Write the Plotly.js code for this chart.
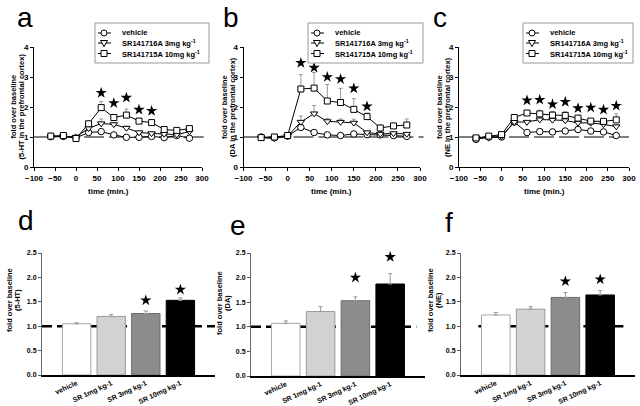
<!DOCTYPE html>
<html>
<head>
<meta charset="utf-8">
<script src="https://cdn.plot.ly/plotly-3.0.1.min.js"></script>
<style>html,body{margin:0;padding:0;background:#fff;}#chart{width:640px;height:406px;}</style>
</head>
<body>
<div id="chart"></div>
<script>
// ---------- data ----------
const times = [-60, -30, 0, 30, 60, 90, 120, 150, 180, 210, 240, 270];
const seriesNames = ['vehicle', 'SR141716A 3mg kg<sup>-1</sup>', 'SR141715A 10mg kg<sup>-1</sup>'];

// panel a : 5-HT
const ht_vehicle = [1.02, 1.02, 0.97, 1.15, 1.18, 1.07, 0.99, 0.99, 1.02, 0.98, 1.05, 0.96];
const ht_vehicle_err = [0.03, 0.02, 0.02, 0.04, 0.04, 0.03, 0.02, 0.02, 0.03, 0.02, 0.03, 0.02];
const ht_sr3 = [1.00, 1.02, 1.00, 1.29, 1.45, 1.42, 1.30, 1.15, 1.12, 1.10, 1.08, 1.18];
const ht_sr3_err = [0.02, 0.02, 0.02, 0.06, 0.15, 0.06, 0.06, 0.05, 0.04, 0.04, 0.03, 0.05];
const ht_sr10 = [1.03, 1.05, 0.95, 1.44, 1.98, 1.65, 1.73, 1.53, 1.48, 1.25, 1.22, 1.28];
const ht_sr10_err = [0.03, 0.03, 0.03, 0.06, 0.20, 0.08, 0.20, 0.08, 0.06, 0.05, 0.04, 0.05];
const ht_star_x = [60, 90, 120, 150, 180];
const ht_star_y = [2.47, 2.13, 2.31, 1.91, 1.87];

// panel b : DA
const da_vehicle = [1.00, 0.98, 1.03, 1.32, 1.15, 1.07, 1.05, 1.10, 1.08, 1.07, 1.05, 1.02];
const da_vehicle_err = [0.02, 0.02, 0.03, 0.10, 0.05, 0.04, 0.03, 0.05, 0.04, 0.03, 0.03, 0.03];
const da_sr3 = [0.98, 0.95, 1.03, 1.50, 1.78, 1.52, 1.50, 1.47, 1.15, 1.10, 1.12, 1.10];
const da_sr3_err = [0.02, 0.02, 0.03, 0.20, 0.27, 0.10, 0.10, 0.12, 0.05, 0.04, 0.05, 0.05];
const da_sr10 = [0.98, 1.00, 1.05, 2.60, 2.63, 2.20, 2.15, 1.92, 1.68, 1.30, 1.37, 1.40];
const da_sr10_err = [0.02, 0.02, 0.03, 0.48, 0.52, 0.55, 0.47, 0.36, 0.12, 0.10, 0.08, 0.20];
const da_star_x = [30, 60, 90, 120, 150, 180];
const da_star_y = [3.47, 3.31, 3.00, 2.93, 2.62, 2.02];

// panel c : NE
const ne_vehicle = [0.92, 1.00, 1.00, 1.50, 1.15, 1.18, 1.17, 1.20, 1.25, 1.20, 1.17, 1.05];
const ne_vehicle_err = [0.03, 0.03, 0.03, 0.05, 0.04, 0.04, 0.04, 0.04, 0.05, 0.04, 0.04, 0.04];
const ne_sr3 = [0.97, 0.97, 1.02, 1.50, 1.50, 1.58, 1.57, 1.55, 1.47, 1.47, 1.42, 1.35];
const ne_sr3_err = [0.03, 0.03, 0.03, 0.05, 0.05, 0.06, 0.06, 0.06, 0.05, 0.05, 0.05, 0.05];
const ne_sr10 = [0.97, 1.03, 1.08, 1.65, 1.80, 1.77, 1.73, 1.72, 1.63, 1.53, 1.52, 1.57];
const ne_sr10_err = [0.03, 0.03, 0.03, 0.05, 0.07, 0.12, 0.12, 0.12, 0.05, 0.07, 0.08, 0.20];
const ne_star_x = [60, 90, 120, 150, 180, 210, 240, 270];
const ne_star_y = [2.22, 2.24, 2.09, 2.17, 1.96, 1.98, 1.91, 2.04];

// bar panels
const doses = ['vehicle', 'SR 1mg kg-1', 'SR 3mg kg-1', 'SR 10mg kg-1'];
const d_vals = [1.05, 1.20, 1.26, 1.53];
const d_err = [0.02, 0.04, 0.05, 0.05];
const d_star_y = [1.53, 1.75];
const e_vals = [1.07, 1.31, 1.53, 1.87];
const e_err = [0.05, 0.10, 0.08, 0.21];
const e_star_y = [2.00, 2.42];
const f_vals = [1.23, 1.35, 1.59, 1.64];
const f_err = [0.05, 0.05, 0.10, 0.09];
const f_star_y = [1.92, 1.96];
const star_doses = [doses[2], doses[3]];

const lineTicks = [-100, -50, 0, 50, 100, 150, 200, 250, 300];
const lineYTicks = [0, 1, 2, 3, 4];
const barYTicks = [0, 0.5, 1.0, 1.5, 2.0, 2.5];

// ---------- styling helpers ----------
const W = 640, H = 406;
const FF = 'Arial, "Liberation Sans", sans-serif';
const xd = (l, r) => [l / W, r / W];
const yd = (t, b) => [1 - b / H, 1 - t / H];
const px = v => v / W;
const py = v => 1 - v / H;

const symbols = ['circle', 'triangle-down', 'square'];
const msize = [6.5, 6.5, 6];

function lineTraces(n, vals, errs, sx, sy) {
  const xa = 'x' + (n === 1 ? '' : n), ya = 'y' + (n === 1 ? '' : n);
  const out = [];
  vals.forEach((v, i) => {
    out.push({
      type: 'scatter', mode: 'lines+markers', x: times, y: v,
      name: seriesNames[i], xaxis: xa, yaxis: ya, showlegend: false,
      line: {color: '#000', width: 1},
      marker: {symbol: symbols[i], size: msize[i], color: '#fff', line: {color: '#000', width: 1}},
      error_y: {type: 'data', symmetric: false, array: errs[i], arrayminus: times.map(() => 0),
                color: '#999', thickness: 1, width: 2},
      cliponaxis: false
    });
  });
  out.push({
    type: 'scatter', mode: 'markers', x: sx, y: sy, xaxis: xa, yaxis: ya, showlegend: false,
    marker: {symbol: 'star', size: 8.5, color: '#000'}, hoverinfo: 'skip', cliponaxis: false
  });
  return out;
}

function barTraces(n, vals, errs, sy) {
  const xa = 'x' + n, ya = 'y' + n;
  return [{
    type: 'bar', x: doses, y: vals, xaxis: xa, yaxis: ya, showlegend: false, width: 0.82,
    marker: {color: ['#ffffff', '#d2d2d2', '#8c8c8c', '#000000'],
             line: {color: ['#a8a8a8', '#9a9a9a', '#6c6c6c', '#000000'], width: 1}},
    error_y: {type: 'data', symmetric: false, array: errs, arrayminus: [0, 0, 0, 0],
              color: '#999', thickness: 1, width: 2}
  }, {
    type: 'scatter', mode: 'markers', x: star_doses, y: sy, xaxis: xa, yaxis: ya, showlegend: false,
    marker: {symbol: 'star', size: 8.5, color: '#000'}, cliponaxis: false
  }];
}

const data = [].concat(
  lineTraces(1, [ht_vehicle, ht_sr3, ht_sr10], [ht_vehicle_err, ht_sr3_err, ht_sr10_err], ht_star_x, ht_star_y),
  lineTraces(2, [da_vehicle, da_sr3, da_sr10], [da_vehicle_err, da_sr3_err, da_sr10_err], da_star_x, da_star_y),
  lineTraces(3, [ne_vehicle, ne_sr3, ne_sr10], [ne_vehicle_err, ne_sr3_err, ne_sr10_err], ne_star_x, ne_star_y),
  barTraces(4, d_vals, d_err, d_star_y),
  barTraces(5, e_vals, e_err, e_star_y),
  barTraces(6, f_vals, f_err, f_star_y)
);

const tickFont = {family: FF, size: 8, color: '#000', weight: 'bold'};
function topX(dom, anchor) {
  return {domain: dom, anchor: anchor, range: [-100, 300], tickvals: lineTicks, ticks: 'outside', ticklen: 3,
          tickcolor: '#000', showline: true, linecolor: '#000', linewidth: 1, showgrid: false, zeroline: false,
          tickfont: tickFont, fixedrange: true};
}
function topY(dom, anchor) {
  return {domain: dom, anchor: anchor, range: [0, 4], tickvals: lineYTicks, ticks: 'outside', ticklen: 3,
          tickcolor: '#000', showline: true, linecolor: '#000', linewidth: 1, showgrid: false, zeroline: false,
          tickfont: tickFont, fixedrange: true};
}
function botX(dom, anchor) {
  return {domain: dom, anchor: anchor, type: 'category', range: [-1, 4], ticks: '', showline: true,
          linecolor: '#000', linewidth: 1.5, showgrid: false, zeroline: false, tickangle: -25,
          tickfont: {family: FF, size: 7, color: '#000', weight: 'bold'}, fixedrange: true};
}
function botY(dom, anchor) {
  return {domain: dom, anchor: anchor, range: [0, 2.5], tickvals: barYTicks, tickformat: '.1f',
          ticks: 'outside', ticklen: 3, tickcolor: '#555', showline: true, linecolor: '#666', linewidth: 1,
          showgrid: false, zeroline: false, tickfont: {family: FF, size: 7, color: '#000', weight: 'bold'},
          fixedrange: true};
}

const titleFont = {family: FF, size: 7.5, color: '#000', weight: 'bold'};
function ann(text, x, y, angle, font, xanchor) {
  return {text: text, xref: 'paper', yref: 'paper', x: px(x), y: py(y), xanchor: xanchor || 'center',
          yanchor: 'middle', showarrow: false, textangle: angle || 0, font: font || titleFont, borderpad: 0};
}
const letterFont = {family: FF, size: 28, color: '#000'};
const xtFont = {family: FF, size: 8, color: '#000', weight: 'bold'};

const annotations = [
  ann('a', 25, 17, 0, letterFont), ann('b', 231, 17, 0, letterFont), ann('c', 440, 17, 0, letterFont),
  ann('d', 26, 220, 0, letterFont), ann('e', 238, 225, 0, letterFont), ann('f', 449, 222, 0, letterFont),
  // y titles, one annotation per line
  ann('fold over baseline', 12.5, 107, -90), ann('(5-HT in the prefrontal cortex)', 20.5, 107, -90),
  ann('fold over baseline', 224, 107, -90), ann('(DA in the prefrontal cortex)', 232, 107, -90),
  ann('fold over baseline', 439, 107, -90), ann('(NE in the prefrontal cortex)', 447, 107, -90),
  ann('fold over baseline', 9, 300, -90), ann('(5-HT)', 17, 300, -90),
  ann('fold over baseline', 219, 303, -90), ann('(DA)', 227, 303, -90),
  ann('fold over baseline', 430, 300, -90), ann('(NE)', 438, 300, -90),
  ann('time (min.)', 108, 191, 0, xtFont),
  ann('time (min.)', 331, 191, 0, xtFont),
  ann('time (min.)', 544, 191, 0, xtFont)
];

function baseline(n, x0, x1, color, width, dash) {
  const s = n === 1 ? '' : n;
  return {type: 'line', xref: 'x' + s + ' domain', yref: 'y' + s, x0: x0, x1: x1, y0: 1, y1: 1,
          line: {color: color, width: width, dash: dash}, layer: 'below'};
}

const shapes = [
  baseline(1, 0, 1.01, '#555', 1.3, '20px,5px'),
  baseline(2, 0, 1.02, '#555', 1.3, '20px,5px'),
  baseline(3, 0, 1.01, '#555', 1.3, '20px,5px'),
  baseline(4, 0, 1.0, '#000', 2.5, '10px,5px'),
  baseline(5, 0, 0.95, '#000', 2.5, '10px,5px'),
  baseline(6, 0.1, 0.94, '#000', 2.5, '10px,5px')
];

// ---------- compact legend key (box, sample line, marker, label) ----------
function legendKey(left, top, right, bottom) {
  shapes.push({type: 'rect', xref: 'paper', yref: 'paper', x0: px(left), x1: px(right), y0: py(bottom), y1: py(top),
               line: {color: '#999', width: 1}, fillcolor: '#fff', layer: 'above'});
  const rowY = [top + 10, top + 20, top + 30.5];
  rowY.forEach((ry, i) => {
    const cx = left + 9;
    shapes.push({type: 'line', xref: 'paper', yref: 'paper', x0: px(left + 3), x1: px(left + 16), y0: py(ry), y1: py(ry),
                 line: {color: '#000', width: 1}, layer: 'above'});
    const mk = {xref: 'paper', yref: 'paper', line: {color: '#000', width: 1}, fillcolor: '#fff', layer: 'above'};
    if (symbols[i] === 'circle') {
      shapes.push(Object.assign({type: 'circle', x0: px(cx - 3), x1: px(cx + 3), y0: py(ry + 3), y1: py(ry - 3)}, mk));
    } else if (symbols[i] === 'triangle-down') {
      shapes.push(Object.assign({type: 'path',
        path: 'M' + px(cx - 3.5) + ',' + py(ry - 2.5) + ' L' + px(cx + 3.5) + ',' + py(ry - 2.5) +
              ' L' + px(cx) + ',' + py(ry + 3.5) + ' Z'}, mk));
    } else {
      shapes.push(Object.assign({type: 'rect', x0: px(cx - 3), x1: px(cx + 3), y0: py(ry + 3), y1: py(ry - 3)}, mk));
    }
    annotations.push(ann(seriesNames[i], left + 26, ry, 0,
      {family: FF, size: 7.5, color: '#000', weight: 'bold'}, 'left'));
  });
}
legendKey(95, 23, 209, 63);
legendKey(308, 23, 423, 63);
legendKey(523, 23, 633, 63);

const layout = {
  width: W, height: H, margin: {l: 0, r: 0, t: 0, b: 0}, paper_bgcolor: '#fff', plot_bgcolor: 'rgba(0,0,0,0)',
  showlegend: false, bargap: 0,
  xaxis: topX(xd(34, 202), 'y'), yaxis: topY(yd(47, 167), 'x'),
  xaxis2: topX(xd(243.5, 420), 'y2'), yaxis2: topY(yd(47, 167), 'x2'),
  xaxis3: topX(xd(459, 629), 'y3'), yaxis3: topY(yd(47, 167), 'x3'),
  xaxis4: botX(xd(42, 215), 'y4'), yaxis4: botY(yd(253, 375), 'x4'),
  xaxis5: botX(xd(251, 425), 'y5'), yaxis5: botY(yd(253, 376), 'x5'),
  xaxis6: botX(xd(461, 635), 'y6'), yaxis6: botY(yd(253, 375), 'x6'),
  annotations: annotations,
  shapes: shapes
};

Plotly.newPlot('chart', data, layout, {staticPlot: true, displayModeBar: false});
</script>
</body>
</html>
